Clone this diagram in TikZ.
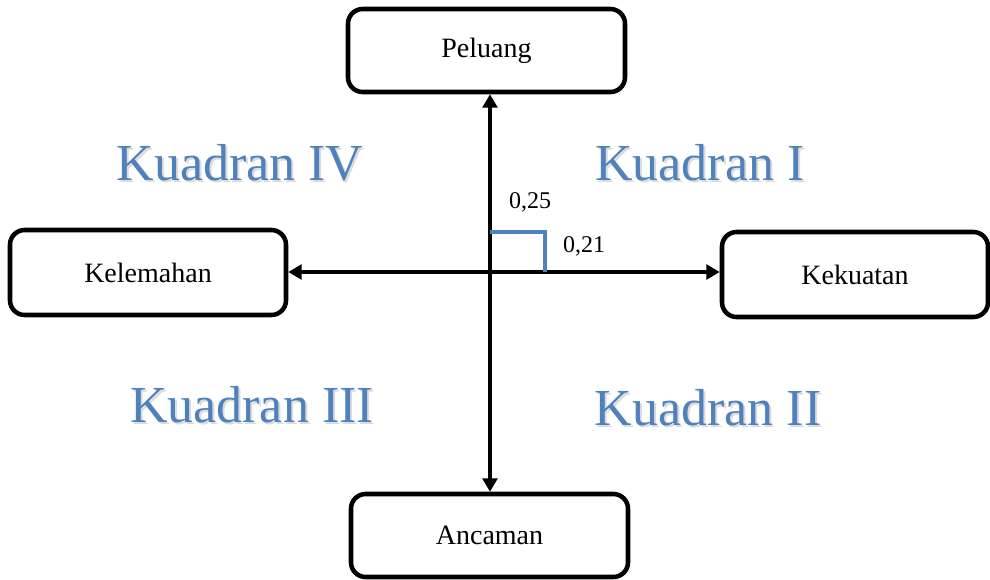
\documentclass[tikz,border=0pt]{standalone}
\usepackage{fontspec}
\setmainfont{Liberation Serif}
\usetikzlibrary{arrows.meta}
\definecolor{kblue}{HTML}{4F81BD}
\tikzset{
  box/.style={draw=black, line width=3.4pt, rounded corners=11pt, fill=white, inner sep=0pt, font=\fontsize{21}{24}\selectfont},
  axis/.style={line width=3.4pt, -{Triangle[length=10pt,width=11pt]}},
  quad/.style={text=kblue, font=\fontsize{39}{44}\selectfont, inner sep=0pt},
  quadshadow/.style={text=black!14, font=\fontsize{39}{44}\selectfont, inner sep=0pt},
  val/.style={font=\fontsize{18}{21}\selectfont, inner sep=0pt}
}
\begin{document}
\begin{tikzpicture}[x=0.75pt,y=-0.75pt]
\useasboundingbox (0,0) rectangle (990,579);
% boxes
\node[box, minimum width=207.75pt, minimum height=62.25pt] (pel) at (486.5,50.5) {Peluang};
\node[box, minimum width=207pt, minimum height=63.75pt] (kel) at (148,272.5) {Kelemahan};
\node[box, minimum width=199.5pt, minimum height=63.75pt] (kek) at (855,274.5) {Kekuatan};
\node[box, minimum width=207.75pt, minimum height=62.25pt] (anc) at (489.5,535.5) {Ancaman};
% axes
\coordinate (c) at (490,272);
\draw[axis] (c) -- (pel.south -| c);
\draw[axis] (c) -- (anc.north -| c);
\draw[axis] (c) -- (kel.east |- c);
\draw[axis] (c) -- (kek.west |- c);
% blue bracket
\coordinate (b1) at (490,232);
\coordinate (b2) at (545,232);
\coordinate (b3) at (545,272);
\draw[kblue, line width=2.4pt] (b1) -- (b2) -- (b3);
% values
\node[val] (v25) at (530,202) {0,25};
\node[val] (v21) at (584,246) {0,21};
% quadrant labels
\node[quadshadow] at (702,165) {Kuadran I};
\node[quad] (q1) at (700,163) {Kuadran I};
\node[quadshadow] at (710,410) {Kuadran II};
\node[quad] (q2) at (708,408) {Kuadran II};
\node[quadshadow] at (254,407) {Kuadran III};
\node[quad] (q3) at (252,405) {Kuadran III};
\node[quadshadow] at (242,165) {Kuadran IV};
\node[quad] (q4) at (240,163) {Kuadran IV};
\end{tikzpicture}
\end{document}
